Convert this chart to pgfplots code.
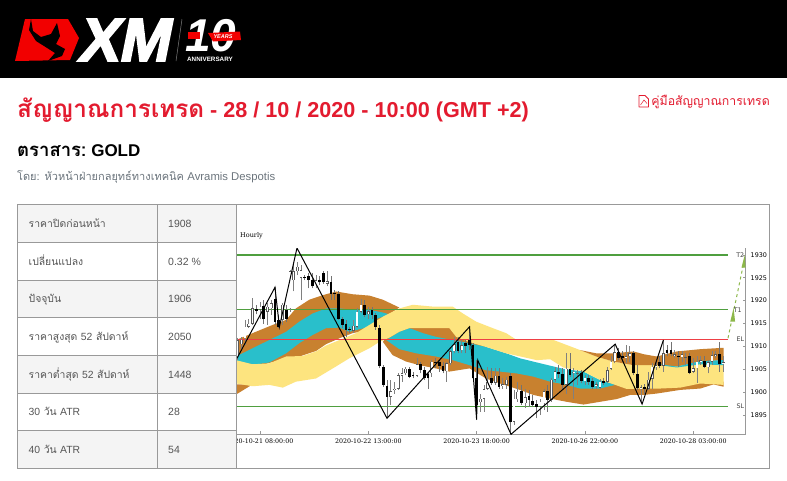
\documentclass[border=0pt]{standalone}
\usepackage{fontspec}
\usepackage{pgfplots}
\usepackage{pgfplotstable}
\pgfplotsset{compat=1.18}
\setmainfont{Liberation Sans}
\newfontfamily\thaif[Script=Thai]{Loma}
\newfontfamily\latf{Liberation Sans}
\newfontfamily\xmf[FakeBold=3,FakeSlant=0.2]{Liberation Sans Bold}
\newfontfamily\dvs{DejaVu Sans}
\newfontfamily\dvr{DejaVu Serif}
\definecolor{xmred}{HTML}{E31B2F}
\definecolor{gbrown}{HTML}{C8812F}
\definecolor{gteal}{HTML}{29BFCB}
\definecolor{gyell}{HTML}{FDE47F}
\definecolor{lgreen}{HTML}{4F9F3F}
\definecolor{lred}{HTML}{EE3F45}
\definecolor{grid}{HTML}{999999}
\definecolor{celltxt}{HTML}{555555}
\definecolor{cell}{HTML}{F4F4F4}
\definecolor{arrowg}{HTML}{8DB84A}
\pgfplotstableread{
i bl bh wl wh
-6 1907.8 1911.4 1907 1911.8
-5 1910.5 1911.5 1909.5 1912
-4 1911.8 1914.3 1910.3 1915.8
-3 1914.3 1915 1914 1916.1
-2 1915 1918.3 1914.7 1920.5
0 1918 1918.7 1916.1 1919.8
2 1917.6 1918.7 1914.7 1919.4
3 1918.3 1919.4 1916.9 1920.2
6 1915.8 1919.1 1914.7 1919.4
8 1918.3 1926.4 1917.6 1926.7
9 1924.5 1926.4 1922 1927.8
10 1926.4 1927.4 1925.6 1928.5
11 1925 1926.7 1920.2 1927.8
15 1923.4 1924.5 1922.7 1925.6
18 1923.7 1924.2 1923.1 1926.4
25 1913.4 1914.5 1912.9 1915.8
26 1914.3 1917.6 1914 1918.3
27 1917.6 1919.1 1917.2 1920.4
29 1917 1917.7 1916.1 1918.7
35 1899 1900.2 1897.2 1902.7
36 1900.5 1900.8 1899.7 1902.3
37 1900.7 1903.7 1900.5 1904.1
38 1903.6 1904.1 1902.3 1905.2
39 1904.1 1905.1 1903.7 1905.6
42 1903.6 1906.1 1903.4 1907.4
46 1904.1 1906.7 1903.4 1907
50 1904.6 1906.3 1902.3 1906.7
51 1906.3 1908.9 1905.9 1909.2
52 1908.9 1910.5 1908.5 1912.1
54 1909.2 1910.3 1908.5 1911.4
59 1897.8 1898.6 1895.7 1899.7
60 1898.6 1900.7 1895.7 1901.6
61 1900.8 1902.3 1900.5 1905.6
63 1902.1 1903.6 1901.6 1905.2
65 1901.4 1901.8 1900.8 1903
66 1901.6 1902.7 1900.8 1903.4
68 1893.5 1898.6 1892.8 1900.5
69 1898.5 1900.1 1897.9 1902.3
71 1897.6 1898.9 1896.5 1900.8
75 1896.8 1897.9 1895 1898.6
76 1897.6 1900.2 1896.1 1900.8
78 1898.3 1902.7 1897.9 1903
79 1902.7 1904.6 1902.3 1905.6
82 1901.6 1905.1 1899.7 1908.5
84 1904.1 1904.5 1898.6 1905.2
85 1904.1 1904.3 1901.6 1904.8
87 1902.4 1903.2 1901.6 1903.7
90 1901.4 1901.7 1900.8 1902.3
91 1901 1902.3 1900.8 1902.9
93 1902.3 1904.8 1901.9 1905.6
94 1905.1 1906.7 1904.8 1907.8
95 1906.8 1908.7 1906.3 1910.5
98 1907.5 1907.9 1906.3 1910.3
99 1907.8 1908.5 1906.7 1910.2
102 1900.8 1901.1 1897.9 1901.6
104 1900.8 1902.7 1900.5 1904.5
105 1902.9 1905.6 1900.8 1906.3
106 1905.6 1905.9 1904.8 1907
108 1905.8 1908.5 1904.5 1911.4
111 1907.9 1908.3 1907.4 1909.2
113 1907.6 1908.3 1906.7 1908.9
114 1907.5 1907.7 1905.9 1908.5
116 1904.5 1905.2 1904.1 1907.4
117 1905.2 1906.7 1902.1 1907.8
118 1906.7 1907 1905.9 1907.8
120 1905.4 1906.5 1904.1 1907
121 1906.7 1908.1 1905.9 1908.9
122 1908 1908.3 1907.4 1908.9
124 1906.3 1906.6 1904.5 1907.8
}\upc
\pgfplotstableread{
i bl bh wl wh
-1 1917.8 1918.2 1917 1919
1 1916.1 1918.8 1915 1920.2
4 1915.4 1920.4 1914.7 1922.9
5 1914.3 1915.8 1914 1916.9
7 1916 1918 1915.4 1919.1
12 1924.9 1925.1 1924.5 1925.6
13 1924.5 1925.3 1922.7 1926
14 1923.1 1924.5 1922.7 1926
16 1924 1924.5 1923.4 1925.3
17 1924 1926 1923.7 1926.4
19 1921.5 1924 1920.2 1925.3
20 1921.5 1921.7 1920.2 1922.3
21 1916.1 1921.4 1915.8 1922
22 1914.7 1916.1 1914 1916.5
23 1913.6 1914.8 1912.1 1915.8
24 1913.5 1913.7 1912.9 1914.3
28 1916.9 1919.1 1916.5 1920.2
30 1916.9 1918 1916.1 1918.7
31 1914.3 1916.9 1913.6 1917.2
32 1905.8 1914.1 1905.2 1914.7
33 1901.6 1905.6 1901.2 1905.9
34 1899 1901.4 1894.6 1902.7
40 1903.4 1905.1 1903 1905.6
41 1903.5 1903.7 1903 1904.5
43 1904.8 1906.1 1904.1 1906.7
44 1903 1904.8 1902.7 1905.6
45 1903 1903.9 1900.8 1904.5
47 1906.3 1906.7 1905.2 1907.4
48 1905.8 1906.5 1904.5 1907
49 1904.6 1905.8 1904.1 1906.7
53 1909 1910.9 1908.5 1912.1
55 1910.2 1910.7 1908.5 1911.4
56 1910.3 1911.4 1909.2 1914
57 1903 1910.3 1902.3 1910.7
58 1897.2 1903 1893.9 1907
62 1901.9 1903 1901.6 1905.2
64 1901.2 1903.6 1900.8 1905.2
67 1893.4 1903.6 1890.8 1904.1
70 1897.6 1900.2 1897.2 1901.6
72 1898.3 1899.1 1896.8 1900.5
73 1897.3 1898.1 1896.8 1899.4
74 1896.8 1897.4 1894.3 1898.3
77 1898.3 1900.3 1895.7 1901.6
80 1903.9 1904.5 1903 1905.9
81 1901.6 1903.9 1900.8 1905.2
83 1903.7 1905.1 1903.4 1908.5
86 1902.4 1904.1 1901.9 1904.8
88 1902.3 1903.2 1901.6 1903.7
89 1901.2 1902.4 1900.8 1903
92 1902.1 1902.4 1901.6 1903
96 1907.5 1908.7 1907 1909.6
97 1907.4 1907.8 1906.7 1908.9
100 1904.1 1908.5 1903.7 1908.9
101 1901 1903.9 1900.5 1905.9
103 1900.7 1901.1 1899.7 1901.9
107 1905.8 1906.7 1905.2 1907.8
109 1908.5 1909.2 1907.8 1910.3
110 1908.3 1909.2 1907.8 1911
112 1907.6 1907.9 1905.6 1908.9
115 1904.3 1907.9 1903.9 1908.5
119 1905.6 1906.8 1905.2 1907.8
123 1906.1 1908.3 1904.5 1911
}\downc
\begin{document}
\begin{tikzpicture}[x=1pt,y=-1pt]
\useasboundingbox (0,0) rectangle (787,480);
\fill[white] (0,0) rectangle (787,480);
% header
\fill[black] (0,0) rectangle (787,78);
\fill[red!95!black] (25,19) -- (68,19) -- (79,38) -- (70,60) -- (15,61) -- cycle;
\fill[black] (31,19) -- (33,31) -- (41,37) -- (51,34) -- (57,23) -- (60,36) -- (56,44) -- (65,49) -- (62,56) -- (48,61) -- (55,53) -- (44,46) -- (36,41) -- (29,30) -- cycle;
\node[anchor=base west,inner sep=0pt,white,font={\xmf\fontsize{61}{62}\selectfont}] at (77,61) {XM};
\draw[gray,line width=.5pt] (182,19) -- (176,61);
\node[anchor=west,inner sep=0pt,white,font={\fontsize{46}{46}\selectfont\bfseries\itshape}] at (185,36) {10};
\fill[red!95!black] (188,32) rectangle (200,39);
\fill[red!95!black] (208,33) -- (240,31.5) -- (241,40) -- (213,41.5) -- cycle;
\node[white,inner sep=0pt,font={\fontsize{5.5}{6}\selectfont\bfseries\itshape}] at (223,36.5) {YEARS};
\node[white,inner sep=0pt,font={\fontsize{6.3}{6.5}\selectfont\bfseries}] at (210,59) {ANNIVERSARY};
% titles
\node[anchor=base west,inner sep=0pt,xmred,font={\bfseries}] at (17,117.5) {{\thaif\fontsize{24.3}{26}\selectfont สัญญาณการเทรด}\hspace{6pt}{\latf\fontsize{21.6}{26}\selectfont - 28 / 10 / 2020 - 10:00 (GMT +2)}};
\node[anchor=base west,inner sep=0pt,black,font={\bfseries}] at (17,156) {{\thaif\fontsize{18.5}{22}\selectfont ตราสาร:}\hspace{5pt}{\latf\fontsize{17}{22}\selectfont GOLD}};
\node[anchor=base west,inner sep=0pt,color={rgb,255:red,108;green,117;blue,125}] at (17,180) {{\thaif\fontsize{11}{14}\selectfont โดย: หัวหน้าฝ่ายกลยุทธ์ทางเทคนิค}\hspace{3.5pt}{\latf\fontsize{11.3}{14}\selectfont Avramis Despotis}};
\node[anchor=base east,inner sep=0pt,xmred,font={\thaif\fontsize{12.3}{14}\selectfont}] at (770,105) {คู่มือสัญญาณการเทรด};
\draw[xmred,line width=.8pt,line join=round] (639,95.5) -- (645,95.5) -- (648.5,99) -- (648.5,107) -- (639,107) -- cycle;
\draw[xmred,line width=.5pt] (640.5,105) -- (644,100) -- (647,103.5);
% chart
\begin{axis}[
  at={(237pt,-434.3pt)},anchor=south west,
  scale only axis,width=508.7pt,height=186.3pt,
  xmin=-6.16,xmax=130.04,ymin=1890.8,ymax=1931.5,
  axis x line*=bottom,axis y line*=right,
  axis line style={draw=grid,line width=1pt},
  tick align=inside,
  tick style={draw=grid,line width=.6pt},
  major tick length=3pt,
  xtick={0,29,58,87,116},
  xticklabels={2020-10-21 08:00:00,2020-10-22 13:00:00,2020-10-23 18:00:00,2020-10-26 22:00:00,2020-10-28 03:00:00},
  x tick label style={font={\dvr\fontsize{6.3}{7}\selectfont},text=black,yshift=-1pt},
  ytick={1895,1900,1905,1910,1915,1920,1925,1930},
  y tick label style={font={\dvs\fontsize{6.4}{7}\selectfont},text=black,/pgf/number format/1000 sep={},/pgf/number format/assume math mode=true,xshift=1.5pt},
  clip=true,
  candle/.style={forget plot,draw=none,mark=none,error bars/.cd,y dir=plus,y explicit,error mark=none},
]
\addplot[forget plot,draw=none,fill=gbrown] coordinates {(-6.4,1901.7)(-2,1901.7)(-6.4,1899.5)} -- cycle;
\addplot[forget plot,draw=none,fill=gbrown] coordinates {(-6.4,1911.4)(-2,1912.9)(3.4,1914.7)(7,1915.8)(9.6,1918.3)(13.2,1920.2)(16.8,1921.2)(20.4,1922)(24.8,1921.4)(29.3,1921.1)(32.9,1920.2)(37.3,1918.5)(32.9,1916.1)(29.3,1913.6)(24.8,1912.9)(21.3,1911.8)(17.7,1910.5)(15,1909)(10.5,1907.8)(7,1907.4)(1.7,1906.2)(-6.4,1905.9)} -- cycle;
\addplot[forget plot,draw=none,fill=gteal] coordinates {(-6.4,1907.8)(-2,1909.6)(2.5,1911.4)(7,1913.2)(10.5,1915.4)(14.1,1917.2)(17.7,1918.3)(21.3,1918.3)(24.8,1918)(29.3,1918)(32.9,1917.4)(34.6,1917)(31.5,1916.1)(29.3,1914.3)(23.9,1913.2)(21.3,1914.1)(17.7,1914)(14.1,1912.5)(10.5,1910.7)(7,1908.5)(2.5,1906.5)(-1,1906.1)(-6.4,1906.5)} -- cycle;
\addplot[forget plot,draw=none,fill=gbrown] coordinates {(33.8,1912)(40,1915)(50.7,1915)(56.1,1912)(64.3,1908)(74.1,1906)(81.2,1905)(87.5,1903)(95,1902)(100,1902)(124.1,1902.3)(124.1,1901.2)(121.4,1901.7)(117.9,1900.8)(112.5,1900.5)(106.2,1899.7)(102.7,1899.4)(99.1,1899.4)(95.5,1898.5)(91,1897.9)(86.6,1897.3)(82.1,1897.9)(77.7,1898.6)(73.2,1899.4)(69.6,1900.5)(64.3,1901.9)(60.5,1903)(56.1,1905.2)(50.7,1904.5)(47.1,1905.2)(42.7,1905.9)(39.1,1906.7)(35.5,1908.1)(32.9,1911)} -- cycle;
\addplot[forget plot,draw=none,fill=gteal] coordinates {(33.8,1911.4)(37.3,1913.2)(40,1914)(43.6,1912.9)(47.1,1912.1)(51.6,1911.4)(56.1,1910.7)(60.5,1909.9)(65.9,1908.5)(69.6,1907.4)(74.1,1906.5)(81.2,1905.1)(86.6,1904.5)(91,1902.7)(95.1,1901.6)(91,1900.8)(85.7,1900.8)(82.1,1901.6)(77.7,1902.3)(73.2,1903.4)(68.75,1904.1)(64.3,1904.5)(60.5,1904.8)(56.1,1905.9)(51.6,1907)(47.1,1907.8)(41.8,1908.5)(37.3,1909.4)} -- cycle;
\addplot[forget plot,draw=none,fill=gyell] coordinates {(-6.4,1907)(-2,1906.1)(2.5,1906.3)(7,1907.8)(11.4,1907.9)(15,1908.9)(17.7,1910.2)(21.3,1911.4)(25.7,1912.9)(29.3,1914.7)(32.9,1916.5)(37.3,1918.3)(40.9,1919.1)(46.3,1918.7)(51.6,1918.7)(54.3,1917.2)(57.9,1915.4)(62.3,1914)(65.9,1912.9)(68.75,1911.4)(78.6,1911.4)(85.7,1909.2)(90,1907.8)(94.6,1906.7)(100,1905.9)(106.2,1905.9)(111.6,1905.6)(117.9,1906.7)(124.1,1907)(124.1,1901.6)(117.9,1901.9)(112.5,1901)(107.1,1900.8)(101.8,1900.8)(98.2,1900.7)(95.1,1901.6)(91,1902.7)(86.6,1904.5)(81.2,1905.4)(77.7,1907.2)(74.1,1907)(65.9,1908.5)(60.5,1909.9)(56.1,1910.9)(52.5,1912.1)(50.7,1914)(40,1914)(37.3,1913.2)(34.6,1911.9)(32,1911)(29.3,1909.6)(23.9,1907.4)(19.5,1905.2)(15,1903)(9.6,1902.3)(6.1,1901)(2.5,1901.6)(-2,1901.3)(-6.4,1901.9)} -- cycle;
\addplot[forget plot,draw=none,fill=gbrown] coordinates {(85.7,1909.2)(90,1908.5)(94.6,1908.5)(100,1908.9)(102.7,1908.3)(106.2,1907.8)(111.6,1908.9)(117.9,1909.4)(124.1,1909.7)(124.1,1907)(117.9,1906.7)(111.6,1905.6)(106.2,1905.9)(100,1905.9)(94.6,1906.7)(90,1907.8)} -- cycle;
\addplot[forget plot,draw=none,fill=gteal] coordinates {(107.1,1906.1)(111.6,1905.6)(117.9,1906.8)(124.1,1907)(124.1,1905.9)(117.9,1906.1)(111.6,1905.4)(108,1905.8)} -- cycle;
% levels
\addplot[forget plot,lgreen,line width=1.3pt] coordinates {(-6.16,1930)(125.3,1930)};
\addplot[forget plot,lgreen,line width=1.3pt] coordinates {(-6.16,1918)(125.3,1918)};
\addplot[forget plot,lgreen,line width=1.3pt] coordinates {(-6.16,1896.9)(125.3,1896.9)};
\addplot[forget plot,lred,line width=1.2pt] coordinates {(-6.16,1911.55)(125.3,1911.55)};
% wicks
\addplot[candle,error bar style={draw=black!50,line width=.7pt}] table[x=i,y=wl,y error plus expr={\thisrow{wh}-\thisrow{wl}}]{\upc};
\addplot[candle,error bar style={draw=black!55,line width=.7pt}] table[x=i,y=wl,y error plus expr={\thisrow{wh}-\thisrow{wl}}]{\downc};
% bodies
\addplot[candle,error bar style={draw=black!65,line width=2.7pt}] table[x=i,y=bl,y error plus expr={\thisrow{bh}-\thisrow{bl}}]{\upc};
\addplot[candle,error bar style={draw=white,line width=1.6pt}] table[x=i,y expr={\thisrow{bl}+0.12},y error plus expr={max(\thisrow{bh}-\thisrow{bl}-0.24,0)}]{\upc};
\addplot[candle,error bar style={draw=black,line width=2.7pt}] table[x=i,y=bl,y error plus expr={\thisrow{bh}-\thisrow{bl}}]{\downc};
% zigzag
\addplot[forget plot,black,line width=1pt] coordinates {(-6.16,1907.4)(4,1922.9)(5.2,1914.3)(9.9,1931.5)(34,1894.3)(56.1,1914.3)(58,1894)(58.3,1907)(67.2,1890.8)(95.1,1910.5)(102.3,1897.4)(108,1911.4)};
% projection
\addplot[forget plot,arrowg,line width=1pt,dashed] coordinates {(125.3,1911.8)(129.7,1929)};
\addplot[forget plot,draw=none,fill=arrowg] coordinates {(125.9,1915.4)(127.2,1915.4)(126.8,1918.4)} -- cycle;
\addplot[forget plot,draw=none,fill=arrowg] coordinates {(128.9,1927.2)(130,1927.2)(129.8,1930)} -- cycle;
\node[anchor=east,inner sep=0pt,text=black!75,font={\dvs\fontsize{6.3}{7}\selectfont}] at (axis cs:129.7,1930) {T2};
\node[anchor=east,inner sep=0pt,text=black!75,font={\dvs\fontsize{6.3}{7}\selectfont}] at (axis cs:129,1918) {T1};
\node[anchor=east,inner sep=0pt,text=black!75,font={\dvs\fontsize{6.3}{7}\selectfont}] at (axis cs:129.7,1911.55) {EL};
\node[anchor=east,inner sep=0pt,text=black!75,font={\dvs\fontsize{6.3}{7}\selectfont}] at (axis cs:129.7,1896.9) {SL};
\end{axis}
\node[anchor=west,inner sep=0pt,font={\dvr\fontsize{6.5}{7}\selectfont}] at (240,236) {Hourly};
% table
\fill[white] (17.5,204.5) rectangle (236,468.3);
\foreach \a/\b in {204.5/242.3,280.3/317.3,355.3/393.3,430.3/468.3}{\fill[cell] (17.5,\a) rectangle (157.3,\b);\fill[cell] (157.3,\a) rectangle (236,\b);}
\foreach \a in {242.3,280.3,317.3,355.3,393.3,430.3}{\draw[grid,line width=.9pt] (17.5,\a) -- (236,\a);}
\draw[grid,line width=.9pt] (157.3,204.5) -- (157.3,468.3);
\draw[grid,line width=.9pt] (236.3,204.5) -- (236.3,468.3);
\draw[grid,line width=.9pt] (17.5,204.5) rectangle (769.5,468.3);
\foreach \y/\l/\v in {227.3/ราคาปิดก่อนหน้า/1908,265.3/เปลี่ยนแปลง/0.32 \%,302.8/ปัจจุบัน/1906,340.3/ราคาสูงสุด {\latf 52} สัปดาห์/2050,378.3/ราคาต่ำสุด {\latf 52} สัปดาห์/1448,415.8/{\latf 30} วัน {\latf ATR}/28,453.3/{\latf 40} วัน {\latf ATR}/54}{
 \node[anchor=base west,inner sep=0pt,text=celltxt,font={\thaif\fontsize{10.4}{13}\selectfont}] at (28.5,\y) {\l};
 \node[anchor=base west,inner sep=0pt,text=celltxt,font={\latf\fontsize{10.5}{13}\selectfont}] at (168,\y) {\v};
}
\end{tikzpicture}
\end{document}
